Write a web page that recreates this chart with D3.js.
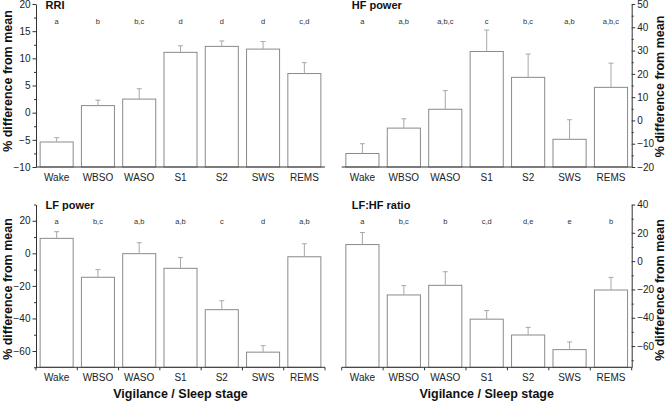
<!DOCTYPE html>
<html><head><meta charset="utf-8">
<script src="https://cdn.jsdelivr.net/npm/d3@7"></script>
<style>
body{margin:0;background:#fff;}
svg{display:block;font-family:"Liberation Sans",Arial,sans-serif;}
</style></head>
<body><svg id="c" width="667" height="401"></svg>
<script>
const categories = ["Wake","WBSO","WASO","S1","S2","SWS","REMS"];

const rriMean = [-5.4, 1.3, 2.5, 11.1, 12.2, 11.7, 7.2];
const rriErr = [0.8, 1.0, 1.9, 1.2, 1.0, 1.4, 2.0];
const rriLetters = ["a","b","b,c","d","d","d","c,d"];
const rriTicks = [-10,-5,0,5,10,15,20];
const rriMinor = [-7.5,-2.5,2.5,7.5,12.5,17.5];

const hfMean = [-14.2, -3.3, 4.8, 29.6, 18.5, -8.1, 14.2];
const hfErr = [4.2, 4.0, 8.0, 9.2, 10.0, 8.4, 10.4];
const hfLetters = ["a","a,b","a,b,c","c","b,c","a,b","a,b,c"];
const hfTicks = [-20,-10,0,10,20,30,40,50];
const hfMinor = [-15,-5,5,15,25,35,45];

const lfMean = [9.2, -14.7, -0.2, -9.2, -34.6, -60.7, -2.1];
const lfErr = [4.1, 4.7, 6.7, 6.7, 5.5, 4.0, 8.0];
const lfLetters = ["a","b,c","a,b","a,b","c","d","a,b"];
const lfTicks = [-60,-40,-20,0,20];
const lfMinor = [-70,-50,-30,-10,10,30];

const ratioMean = [11.7, -23.9, -17.1, -41.0, -52.2, -62.5, -20.4];
const ratioErr = [8.5, 6.6, 9.6, 6.1, 5.4, 5.4, 8.9];
const ratioLetters = ["a","b,c","b","c,d","d,e","e","b"];
const ratioTicks = [-60,-40,-20,0,20,40];
const ratioMinor = [-70,-50,-30,-10,10,30];

const yTitle = "% difference from mean";
const xTitle = "Vigilance / Sleep stage";

const panels = [
  {title:"RRI", mean:rriMean, err:rriErr, letters:rriLetters, ticks:rriTicks, minor:rriMinor,
   domain:[-10,20], x:[36,325], y:[4,167], side:"left", xticks:false, xTitle:false, ylabC:81},
  {title:"HF power", mean:hfMean, err:hfErr, letters:hfLetters, ticks:hfTicks, minor:hfMinor,
   domain:[-20,50], x:[341.7,631.7], y:[4,167], side:"right", xticks:false, ylabC:86.5},
  {title:"LF power", mean:lfMean, err:lfErr, letters:lfLetters, ticks:lfTicks, minor:lfMinor,
   domain:[-70,30], x:[36,325], y:[204.5,367.3], side:"left", xticks:true, xTitle:true, ylabC:289},
  {title:"LF:HF ratio", mean:ratioMean, err:ratioErr, letters:ratioLetters, ticks:ratioTicks, minor:ratioMinor,
   domain:[-75,40], x:[341.7,631.7], y:[204.5,367.3], side:"right", xticks:true, xTitle:true, ylabC:290}
];

const svg = d3.select("#c");
const axisCol = "#333", barCol = "#8a8a8a", errCol = "#a8a8a8", txtCol = "#222";

panels.forEach(p => {
  const g = svg.append("g");
  const x = d3.scaleBand().domain(categories).range(p.x).paddingInner(0.2).paddingOuter(0.1);
  const y = d3.scaleLinear().domain(p.domain).range([p.y[1], p.y[0]]);
  const base = p.y[1];

  g.selectAll("rect.bar").data(categories).enter().append("rect")
    .attr("x", d => x(d)).attr("width", x.bandwidth())
    .attr("y", (d,i) => y(p.mean[i])).attr("height", (d,i) => base - y(p.mean[i]))
    .attr("fill", "#fff").attr("stroke", barCol).attr("stroke-width", 1);

  const cx = d => x(d) + x.bandwidth()/2;
  g.selectAll("line.err").data(categories).enter().append("line")
    .attr("x1", cx).attr("x2", cx)
    .attr("y1", (d,i) => y(p.mean[i])).attr("y2", (d,i) => y(p.mean[i] + p.err[i]))
    .attr("stroke", errCol).attr("stroke-width", 1);
  g.selectAll("line.cap").data(categories).enter().append("line")
    .attr("x1", d => cx(d) - 2.5).attr("x2", d => cx(d) + 2.5)
    .attr("y1", (d,i) => y(p.mean[i] + p.err[i])).attr("y2", (d,i) => y(p.mean[i] + p.err[i]))
    .attr("stroke", errCol).attr("stroke-width", 1);

  g.selectAll("text.let").data(categories).enter().append("text")
    .attr("x", cx).attr("y", p.y[0] + 19.5)
    .attr("text-anchor", "middle").attr("font-size", "7.5px").attr("fill", "#333")
    .text((d,i) => p.letters[i]);

  const isLeft = p.side === "left";
  const ax = isLeft ? d3.axisLeft(y) : d3.axisRight(y);
  const ya = g.append("g").attr("transform", `translate(${isLeft ? p.x[0] : p.x[1]},0)`)
    .call(ax.tickValues(p.ticks).tickSize(3.5).tickSizeOuter(0).tickPadding(2));
  ya.select(".domain").attr("stroke", axisCol);
  ya.selectAll(".tick line").attr("stroke", axisCol);
  ya.selectAll(".tick text").attr("font-size", "10px").attr("fill", txtCol)
    .attr("font-family", "Liberation Sans, Arial, sans-serif");
  const axm = isLeft ? d3.axisLeft(y) : d3.axisRight(y);
  const ym = g.append("g").attr("transform", `translate(${isLeft ? p.x[0] : p.x[1]},0)`)
    .call(axm.tickValues(p.minor).tickSize(2).tickSizeOuter(0).tickFormat(""));
  ym.select(".domain").remove();
  ym.selectAll(".tick line").attr("stroke", axisCol);

  const xa = g.append("g").attr("transform", `translate(0,${base})`)
    .call(d3.axisBottom(x).tickSize(0).tickSizeOuter(0).tickPadding(7));
  xa.select(".domain").attr("stroke", axisCol).attr("d", `M${p.x[0]},0H${p.x[1]}`);
  xa.selectAll(".tick text").attr("font-size", "10px").attr("fill", txtCol)
    .attr("font-family", "Liberation Sans, Arial, sans-serif");
  if (p.xticks) {
    const bounds = d3.range(categories.length + 1).map(i => p.x[0] + i * x.step());
    g.selectAll("line.xb").data(bounds).enter().append("line")
      .attr("x1", d => d).attr("x2", d => d).attr("y1", base).attr("y2", base + 3)
      .attr("stroke", axisCol);
  }

  g.append("text").attr("x", p.x[0] + (isLeft ? 9.5 : 10)).attr("y", p.y[0] + 4.5)
    .attr("font-size", "11px").attr("font-weight", "bold").attr("fill", "#111").text(p.title);

  const lx = isLeft ? 11.5 : 663.5;
  g.append("text").attr("transform", `translate(${lx},${p.ylabC}) rotate(-90)`)
    .attr("text-anchor", "middle").attr("font-size", "12.5px").attr("font-weight", "bold")
    .attr("fill", "#111").text(yTitle);

  if (p.xTitle) {
    g.append("text").attr("x", (p.x[0] + p.x[1]) / 2).attr("y", 398.3)
      .attr("text-anchor", "middle").attr("font-size", "12.5px").attr("font-weight", "bold")
      .attr("fill", "#111").text(xTitle);
  }
});
</script></body></html>
